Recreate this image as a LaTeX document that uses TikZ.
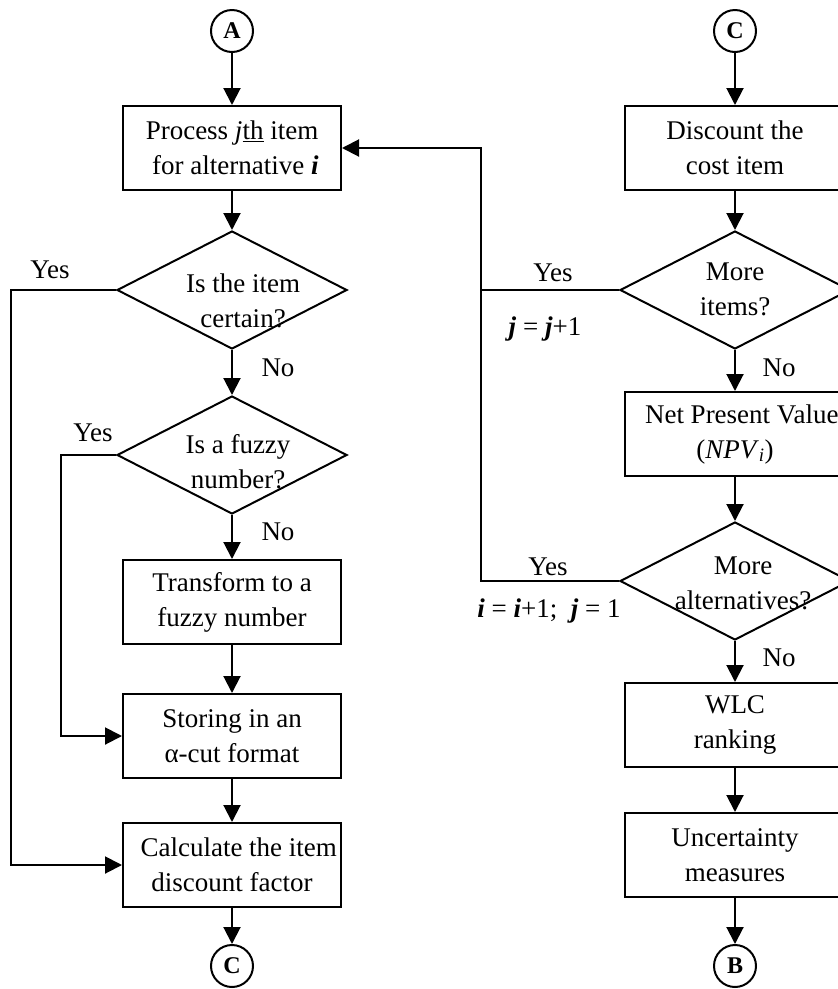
\documentclass[tikz,border=0pt]{standalone}
\usepackage{fontspec}
\setmainfont{Liberation Serif}
\usetikzlibrary{shapes.geometric,arrows.meta}
\begin{document}
\begin{tikzpicture}[x=1pt,y=-1pt,
  every node/.style={font=\fontsize{27}{35}\selectfont},
  box/.style={draw,line width=2pt,minimum width=218pt,minimum height=84pt,align=center,inner sep=0pt},
  rbox/.style={box,minimum width=220pt},
  dia/.style={draw,diamond,line width=2pt,minimum width=230pt,minimum height=118pt,inner sep=0pt},
  dtext/.style={align=center,inner sep=0pt},
  conn/.style={draw,circle,line width=2pt,minimum size=42pt,inner sep=0pt,font=\fontsize{24}{26}\selectfont\bfseries},
  lbl/.style={inner sep=0pt},
  arr/.style={line width=2pt,-{Triangle[length=17pt,width=17pt]}},
  ln/.style={line width=2pt}]
\useasboundingbox (0,0) rectangle (838,989);
\clip (0,0) rectangle (838,989);
% left column
\node[conn] (cA) at (232,31) {A};
\node[box] (b1) at (232,148) {Process \textit{j}\underline{th} item\\ \ for alternative \textbf{\textit{i}}};
\node[dia] (d1) at (232,290) {};
\node[dtext] (t1) at (243,301) {Is the item\\certain?};
\node[dia] (d2) at (232,455) {};
\node[dtext] (t2) at (238,462) {Is a fuzzy\\number?};
\node[box] (b2) at (232,602) {Transform to a\\fuzzy number};
\node[box] (b3) at (232,736) {Storing in an\\α-cut format};
\node[box] (b4) at (232,865) {\ \ Calculate the item\\discount factor};
\node[conn] (cC1) at (232,966) {C};
% right column
\node[conn] (cC2) at (735,31) {C};
\node[rbox] (r1) at (735,148) {Discount the\\cost item};
\node[dia] (rd1) at (735,290) {};
\node[dtext] (t3) at (735,289) {More\\items?};
\node[rbox] (r2) at (735,434) {\ \ Net Present Value\\(\textit{NPV}\textsubscript{\textit{i}})};
\node[dia] (rd2) at (735,581) {};
\node[dtext] (t4) at (743,583) {More\\alternatives?};
\node[rbox] (r3) at (735,725) {WLC\\ranking};
\node[rbox] (r4) at (735,855) {Uncertainty\\measures};
\node[conn] (cB) at (735,966) {B};
% vertical arrows
\draw[arr] (cA) -- (b1);
\draw[arr] (b1) -- (d1);
\draw[arr] (d1) -- (d2);
\draw[arr] (d2) -- (b2);
\draw[arr] (b2) -- (b3);
\draw[arr] (b3) -- (b4);
\draw[arr] (b4) -- (cC1);
\draw[arr] (cC2) -- (r1);
\draw[arr] (r1) -- (rd1);
\draw[arr] (rd1) -- (r2);
\draw[arr] (r2) -- (rd2);
\draw[arr] (rd2) -- (r3);
\draw[arr] (r3) -- (r4);
\draw[arr] (r4) -- (cB);
% yes branches
\draw[arr] (d1.west) -- ++(-105,0) |- (b4.west);
\draw[arr] (d2.west) -- ++(-55,0) |- (b3.west);
\path (rd1.west) ++(-138,0) coordinate (j1);
\draw[arr] (rd1.west) -- (j1) |- (b1.east);
\draw[ln] (rd2.west) -| (j1);
% labels
\node[lbl] (y1) at (50,270) {Yes};
\node[lbl] (y2) at (93,433) {Yes};
\node[lbl] (n1) at (278,368) {No};
\node[lbl] (n2) at (278,532) {No};
\node[lbl] (y3) at (553,273) {Yes};
\node[lbl] (e1) at (545,329) {\textbf{\textit{j}} = \textbf{\textit{j}}+1};
\node[lbl] (n3) at (779,368) {No};
\node[lbl] (y4) at (548,567) {Yes};
\node[lbl] (e2) at (549,611) {\textbf{\textit{i}} = \textbf{\textit{i}}+1; \ \textbf{\textit{j}} = 1};
\node[lbl] (n4) at (779,658) {No};
\end{tikzpicture}
\end{document}
